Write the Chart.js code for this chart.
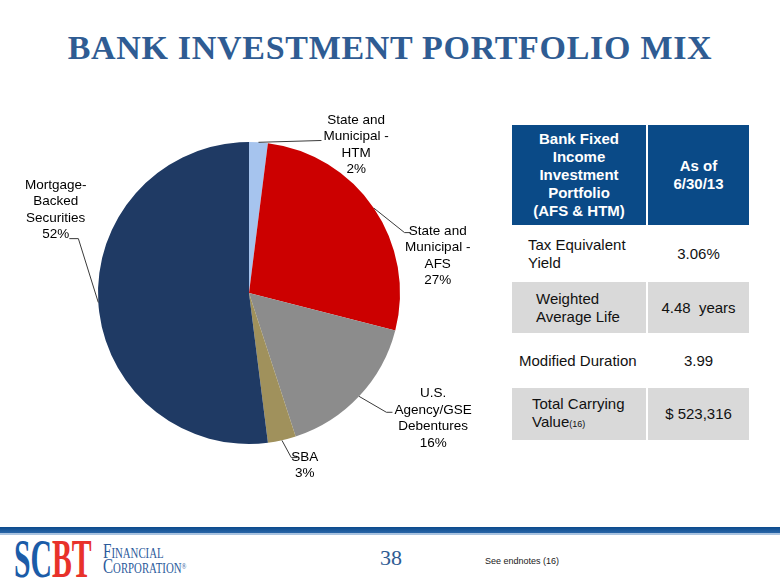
<!DOCTYPE html>
<html>
<head>
<meta charset="utf-8">
<script src="https://cdn.jsdelivr.net/npm/chart.js@4"></script>
<style>
  body { margin: 0; background: #fff; font-family: "Liberation Sans", Arial, sans-serif; }
  #page { position: relative; width: 780px; height: 585px; overflow: hidden; }
  #title { position: absolute; left: 0; top: 31px; width: 780px; text-align: center; line-height: 1;
    font-family: "Liberation Serif", serif; font-weight: bold; font-size: 34px; color: #2F5C93;
    letter-spacing: 0.7px; white-space: nowrap; }
  #chart { position: absolute; left: 0; top: 90px; }
  .cell { position: absolute; box-sizing: border-box; font-size: 15px; color: #111; line-height: 18px; }
  .hd { background: #0A4A87; color: #fff; font-weight: bold; text-align: center;
    display: flex; align-items: center; justify-content: center; }
  .gr { background: #D9D9D9; }
  .lf { display: flex; align-items: center; }
  .rt { display: flex; align-items: center; justify-content: center; }
  #rule { position: absolute; left: 0; top: 527px; width: 780px; height: 6px;
    background: linear-gradient(#0B4A8C, #2A66A8); }
  #rule2 { position: absolute; left: 0; top: 533px; width: 780px; height: 2px; background: #A9C3E0; }
  #pg { position: absolute; left: 380px; top: 547px; font-family: "Liberation Serif", serif; line-height: 1;
    font-size: 22px; color: #2F5C93; }
  #note { position: absolute; left: 485px; top: 557px; font-size: 9px; line-height: 1; color: #222; }
  #logo { position: absolute; left: 14px; top: 532px; font-family: "Liberation Serif", serif; line-height: 1;
    font-weight: bold; font-size: 54px; transform: scaleX(0.55); transform-origin: 0 0; white-space: nowrap; }
  #corp { position: absolute; left: 103px; top: 544px; font-family: "Liberation Serif", serif;
    font-size: 21px; line-height: 15px; color: #2B5A9B; font-variant: small-caps;
    transform: scaleX(0.72); transform-origin: 0 0; white-space: nowrap; }
</style>
</head>
<body>
<div id="page">
  <div id="title">BANK INVESTMENT PORTFOLIO MIX</div>
  <canvas id="chart" width="500" height="410"></canvas>

  <div class="cell hd" style="left:512px;top:125px;width:134px;height:100px;">Bank Fixed<br>Income<br>Investment<br>Portfolio<br>(AFS &amp; HTM)</div>
  <div class="cell hd" style="left:648px;top:125px;width:101px;height:100px;">As of<br>6/30/13</div>

  <div class="cell lf" style="left:512px;top:227px;width:134px;height:53px;padding-left:16px;"><div>Tax Equivalent<br>Yield</div></div>
  <div class="cell rt" style="left:648px;top:227px;width:101px;height:53px;">3.06%</div>

  <div class="cell lf gr" style="left:512px;top:282px;width:134px;height:51px;padding-left:24px;"><div>Weighted<br>Average Life</div></div>
  <div class="cell rt gr" style="left:648px;top:282px;width:101px;height:51px;">4.48&nbsp; years</div>

  <div class="cell lf" style="left:512px;top:335px;width:134px;height:51px;padding-left:7px;"><div>Modified Duration</div></div>
  <div class="cell rt" style="left:648px;top:335px;width:101px;height:51px;">3.99</div>

  <div class="cell lf gr" style="left:512px;top:388px;width:134px;height:52px;padding-left:20px;"><div>Total Carrying<br>Value<span style="font-size:9px;">(16)</span></div></div>
  <div class="cell rt gr" style="left:648px;top:388px;width:101px;height:52px;">$ 523,316</div>

  <div id="rule"></div>
  <div id="rule2"></div>
  <div id="logo"><span style="color:#1B5CA8">SC</span><span style="color:#E8322A">BT</span></div>
  <div id="corp">Financial<br>Corporation<span style="font-size:9px;vertical-align:top;">®</span></div>
  <div id="pg">38</div>
  <div id="note">See endnotes (16)</div>
</div>

<script>
const categories = [
  ["State and", "Municipal -", "HTM"],
  ["State and", "Municipal -", "AFS"],
  ["U.S.", "Agency/GSE", "Debentures"],
  ["SBA"],
  ["Mortgage-", "Backed", "Securities"]
];
const shares = [2, 27, 16, 3, 52];
const sliceColors = ["#A6C4EE", "#CC0000", "#8C8C8C", "#A0915C", "#1F3A64"];

// label layout, in units of the pie radius from its centre
const labelPlace = [
  { text: [0.71, -0.98], elbow: [0.48, -1.01], end: [0.48, -1.01] },
  { text: [1.25, -0.245], elbow: [1.03, -0.40], end: [1.07, -0.40] },
  { text: [1.22, 0.83], elbow: [0.91, 0.79], end: [0.95, 0.79] },
  { text: [0.37, 1.14], elbow: [0.28, 1.09], end: [0.32, 1.09] },
  { text: [-1.28, -0.55], elbow: [-1.13, -0.36], end: [-1.19, -0.36] }
];

const leaders = {
  id: 'leaders',
  afterDatasetsDraw(chart) {
    const ctx = chart.ctx;
    const meta = chart.getDatasetMeta(0);
    const labels = chart.data.labels;
    const vals = chart.data.datasets[0].data;
    ctx.save();
    meta.data.forEach((arc, i) => {
      const p = arc.getProps(['x', 'y', 'outerRadius', 'startAngle', 'endAngle'], true);
      const r = p.outerRadius;
      const mid = (p.startAngle + p.endAngle) / 2;
      const pl = labelPlace[i];
      ctx.strokeStyle = '#3a3a3a';
      ctx.lineWidth = 1;
      ctx.beginPath();
      ctx.moveTo(p.x + Math.cos(mid) * r, p.y + Math.sin(mid) * r);
      ctx.lineTo(p.x + pl.elbow[0] * r, p.y + pl.elbow[1] * r);
      ctx.lineTo(p.x + pl.end[0] * r, p.y + pl.end[1] * r);
      ctx.stroke();

      const lines = labels[i].concat([vals[i] + '%']);
      const lh = 16.5;
      const cx = p.x + pl.text[0] * r;
      const cy = p.y + pl.text[1] * r - (lines.length - 1) * lh / 2;
      ctx.fillStyle = '#000';
      ctx.font = '13.5px "Liberation Sans", Arial, sans-serif';
      ctx.textAlign = 'center';
      ctx.textBaseline = 'middle';
      lines.forEach((t, k) => ctx.fillText(t, cx, cy + k * lh));
    });
    ctx.restore();
  }
};

new Chart(document.getElementById("chart"), {
  type: 'pie',
  data: {
    labels: categories,
    datasets: [{
      data: shares,
      backgroundColor: sliceColors,
      borderWidth: 0
    }]
  },
  options: {
    responsive: false,
    animation: false,
    layout: { padding: { left: 98, right: 100, top: 52, bottom: 56 } },
    plugins: { legend: { display: false }, tooltip: { enabled: false } }
  },
  plugins: [leaders]
});
</script>
</body>
</html>
